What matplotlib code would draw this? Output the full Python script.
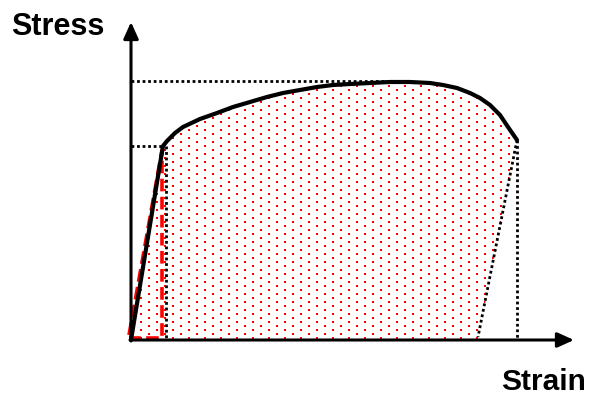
import numpy as np
import matplotlib
matplotlib.use('Agg')
import matplotlib.pyplot as plt
from matplotlib.patches import Polygon

plt.rcParams['font.family'] = ['Liberation Sans', 'DejaVu Sans']

# stress-strain curve (arbitrary units)
strain = [0, 32, 36, 44, 52, 69, 86, 102, 119, 136, 152, 169, 186, 202, 219,
          239, 259, 279, 299, 312, 326, 339, 349, 359, 369, 377, 386]
stress = [0, 194, 199, 207, 213, 221, 227, 233, 238, 243, 247, 250, 253, 255, 256,
          257, 258, 258, 257, 255, 252, 247, 242, 235, 225, 213, 200]

yield_pt = (32, 194)
uts_level = 259
uts_strain = 259
fracture = (386, 200)
unload_end = (347, 3)
elastic_box = (31, 2)     # red dashed triangle (strain, base stress)
plastic_offset = 35       # black dotted vertical under yield

fig = plt.figure(figsize=(5.93, 3.96), dpi=100)
ax = fig.add_axes([0, 0, 1, 1])
ax.set_xlim(-131, 462)
ax.set_ylim(-56, 340)
ax.axis('off')

# shaded energy area: staggered red dot texture clipped to the area
fx = strain + [unload_end[0], 0]
fy = stress + [0, 0]
area = Polygon(np.column_stack([fx, fy]), closed=True, facecolor='none',
               edgecolor='none', transform=ax.transData)
ax.add_patch(area)
rows = np.arange(2, 262, 4)
gx, gy = [], []
for i, r in enumerate(rows):
    cols = np.arange(-6 + 8 * (i % 2), 400, 16)
    gx.extend(cols)
    gy.extend([r] * len(cols))
dots = ax.scatter(gx, gy, s=4.0, marker='s', color='red', linewidths=0,
                  antialiased=False, zorder=1)
dots.set_clip_path(area)

# dotted guide lines
dot = dict(color='black', lw=2.0, linestyle=(0, (1, 1)), zorder=2)
ax.plot([0, yield_pt[0]], [yield_pt[1], yield_pt[1]], **dot)
ax.plot([0, uts_strain], [uts_level, uts_level], **dot)
ax.plot([plastic_offset, plastic_offset], [yield_pt[1], 0], **dot)
ax.plot([fracture[0], fracture[0]], [fracture[1], 0], **dot)
ax.plot([fracture[0], unload_end[0]], [fracture[1], unload_end[1]], **dot)

# red dashed elastic triangle
ax.plot([-2, elastic_box[0], elastic_box[0], -2],
        [5, yield_pt[1] - 4, elastic_box[1], elastic_box[1]],
        color='red', lw=2.6, linestyle=(0, (3.5, 1.5)), zorder=3)

# the curve
ax.plot(strain, stress, color='black', lw=3.0, solid_joinstyle='round',
        solid_capstyle='round', zorder=4)

# axes arrows
arr = dict(arrowstyle='-|>,head_length=1.0,head_width=0.45', lw=2.2,
           color='black', shrinkA=0, shrinkB=0)
ax.annotate('', xy=(443, 0), xytext=(-1, 0), arrowprops=arr, zorder=5)
ax.annotate('', xy=(0, 318), xytext=(0, -1), arrowprops=arr, zorder=5)

ax.text(-120, 305, 'Stress', fontsize=22, fontweight='bold', ha='left', va='baseline')
ax.text(370, -50, 'Strain', fontsize=21.5, fontweight='bold', ha='left', va='baseline')

fig.savefig('out.png', dpi=100)
